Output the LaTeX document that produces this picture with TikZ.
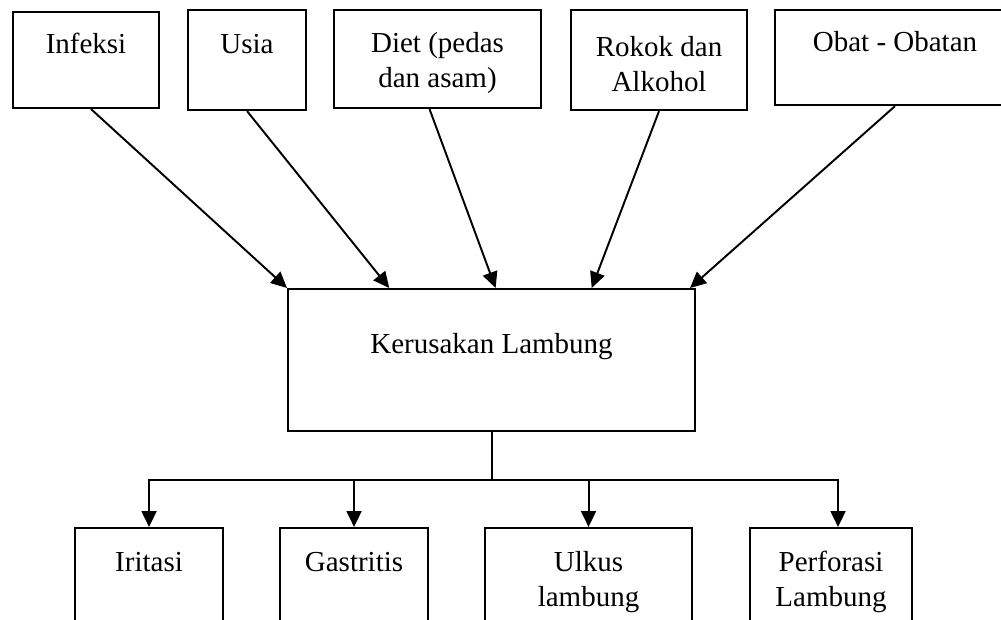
\documentclass[tikz,border=0pt]{standalone}
\usepackage{fontspec}
\setmainfont{Liberation Serif}
\usetikzlibrary{arrows.meta, calc}

\begin{document}
\begin{tikzpicture}[
    x = 0.02cm, y = -0.02cm,
    font = \fontsize{16.5}{20}\selectfont,
    box/.style = {draw, line width = 1.2pt, anchor = north west, inner sep = 0pt, align = center},
    oneline/.style = {text height = 11pt, text depth = 18pt},
    twoline/.style = {text height = 36pt},
    arr/.style = {-{Triangle[length = 0.32cm, width = 0.3cm]}, line width = 1.1pt}
  ]
  \useasboundingbox (0, 0) rectangle (1001, 619);
  \clip (0, 0) rectangle (1001, 619);
  % causes
  \node[box, oneline, minimum width = 2.92cm, minimum height = 1.92cm] (inf) at (12,  11) {Infeksi};
  \node[box, oneline, minimum width = 2.36cm, minimum height = 2.00cm] (usi) at (187,  9) {Usia};
  \node[box, twoline, minimum width = 4.14cm, minimum height = 1.96cm] (dit) at (333,  9) {Diet (pedas\\dan asam)};
  \node[box, twoline, minimum width = 3.52cm, minimum height = 2.00cm] (rok) at (570,  9) {Rokok dan\\Alkohol};
  \node[box, oneline, minimum width = 4.80cm, minimum height = 1.90cm] (obt) at (774,  9) {Obat - Obatan};
  % damage
  \node[box, oneline, minimum width = 8.14cm, minimum height = 2.84cm] (ker) at (287, 288) {Kerusakan Lambung};
  % effects
  \node[box, oneline, minimum width = 2.96cm, minimum height = 2.00cm] (iri) at (74,  527) {Iritasi};
  \node[box, oneline, minimum width = 2.96cm, minimum height = 2.00cm] (gas) at (279, 527) {Gastritis};
  \node[box, twoline, minimum width = 4.14cm, minimum height = 2.00cm] (ulk) at (484, 527) {Ulkus\\lambung};
  \node[box, twoline, minimum width = 3.24cm, minimum height = 2.00cm] (prf) at (749, 527) {Perforasi\\Lambung};
  % causes into the stomach
  \draw[arr] ([xshift = 0.1cm]inf.south)   -- (ker.north west);
  \draw[arr] (usi.south)                   -- ($(ker.north west)!0.25!(ker.north east)$);
  \draw[arr] ([xshift = -0.16cm]dit.south) -- ($(ker.north west)!0.51!(ker.north east)$);
  \draw[arr] (rok.south)                   -- ($(ker.north west)!0.745!(ker.north east)$);
  \draw[arr] (obt.south)                   -- ([xshift = -0.12cm]ker.north east);
  % what follows
  \coordinate (hub) at (492, 480);
  \draw[line width = 1.1pt] (ker.south -| hub) -- (hub);
  \draw[arr] (hub) -| (iri.north);
  \draw[arr] (hub) -| (gas.north);
  \draw[arr] (hub) -| (ulk.north);
  \draw[arr] (hub) -| ([xshift = 0.14cm]prf.north);
\end{tikzpicture}
\end{document}
